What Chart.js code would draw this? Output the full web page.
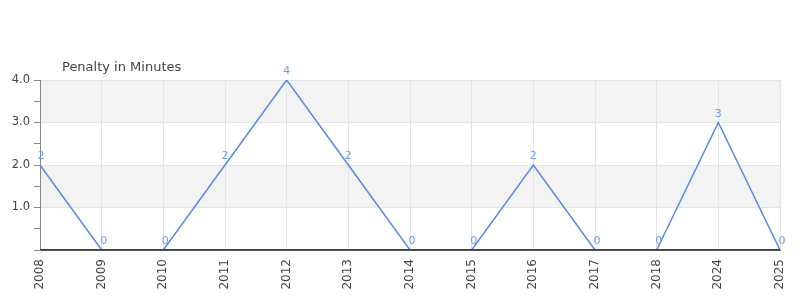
<!DOCTYPE html>
<html>
<head>
<meta charset="utf-8">
<script src="https://cdn.jsdelivr.net/npm/chart.js@4"></script>
<style>
  html, body { margin: 0; padding: 0; background: #fff; }
  #wrap { position: relative; width: 800px; height: 300px; }
  #title {
    position: absolute; left: 62px; top: 59px;
    font: 13px "DejaVu Sans", sans-serif; color: #444;
  }
</style>
</head>
<body>
<div id="wrap">
  <canvas id="chart" width="800" height="300"></canvas>
  <div id="title">Penalty in Minutes</div>
</div>
<script>
const years = ["2008", "2009", "2010", "2011", "2012", "2013", "2014", "2015", "2016", "2017", "2018", "2024", "2025"];
const penaltyMinutes = [2, 0, 0, 2, 4, 2, 0, 0, 2, 0, 0, 3, 0];
const yTickLabels = { 1: "1.0", 2: "2.0", 3: "3.0", 4: "4.0" };

const lineColor = "rgb(85, 138, 236)";
const labelColor = "rgb(110, 155, 238)";

// alternating grey bands between the whole-number grid lines
const bandsPlugin = {
  id: "bands",
  beforeDraw(chart) {
    const { ctx, chartArea } = chart;
    const y = chart.scales.y;
    ctx.save();
    ctx.fillStyle = "#f3f3f3";
    for (let v = 1; v < 4; v += 2) {
      const top = y.getPixelForValue(v + 1);
      const bottom = y.getPixelForValue(v);
      ctx.fillRect(chartArea.left, top, chartArea.right - chartArea.left, bottom - top);
    }
    ctx.restore();
  },
};

// red zero line and value labels above each point
const overlayPlugin = {
  id: "overlay",
  afterDatasetsDraw(chart) {
    const { ctx, chartArea } = chart;
    const zero = Math.round(chart.scales.y.getPixelForValue(0)) - 1;
    ctx.save();
    ctx.strokeStyle = "#d40000";
    ctx.lineWidth = 1;
    ctx.beginPath();
    ctx.moveTo(chartArea.left, zero + 0.5);
    ctx.lineTo(chartArea.right, zero + 0.5);
    ctx.stroke();

    const meta = chart.getDatasetMeta(0);
    ctx.fillStyle = labelColor;
    ctx.font = '11px "DejaVu Sans", sans-serif';
    ctx.textAlign = "center";
    ctx.textBaseline = "bottom";
    meta.data.forEach((pt, i) => {
      const x = i === 0 ? pt.x + 1 : pt.x + (penaltyMinutes[i] === 0 ? 2 : 0);
      ctx.fillText(String(penaltyMinutes[i]), x, pt.y - 3);
    });
    ctx.restore();
  },
};

new Chart(document.getElementById("chart"), {
  type: "line",
  data: {
    labels: years,
    datasets: [
      {
        label: "Penalty in Minutes",
        data: penaltyMinutes,
        borderColor: lineColor,
        borderWidth: 1.5,
        pointRadius: 0,
        tension: 0,
        fill: false,
      },
    ],
  },
  options: {
    responsive: false,
    animation: false,
    layout: { padding: { top: 80, right: 20, left: 0, bottom: 0 } },
    plugins: {
      legend: { display: false },
      title: { display: false },
      tooltip: { enabled: false },
    },
    scales: {
      x: {
        offset: false,
        grid: { color: "#e4e4e4", drawTicks: false },
        border: { color: "#555" },
        ticks: {
          maxRotation: 90,
          minRotation: 90,
          padding: 9,
          color: "#444",
          font: { family: "DejaVu Sans", size: 12 },
        },
        afterFit: (s) => {
          s.height = 50;
          s.paddingLeft = 0;
          s.paddingRight = 0;
        },
      },
      y: {
        min: 0,
        max: 4,
        grid: {
          color: (c) => (c.tick && Number.isInteger(c.tick.value) ? "#e4e4e4" : "transparent"),
          tickColor: "#888",
          tickLength: 6,
        },
        border: { color: "#888" },
        ticks: {
          stepSize: 0.5,
          padding: 4,
          color: "#444",
          font: { family: "DejaVu Sans", size: 11.5 },
          callback: (v) => yTickLabels[v] || "",
        },
        afterFit: (s) => { s.width = 40; },
      },
    },
  },
  plugins: [bandsPlugin, overlayPlugin],
});
</script>
</body>
</html>
